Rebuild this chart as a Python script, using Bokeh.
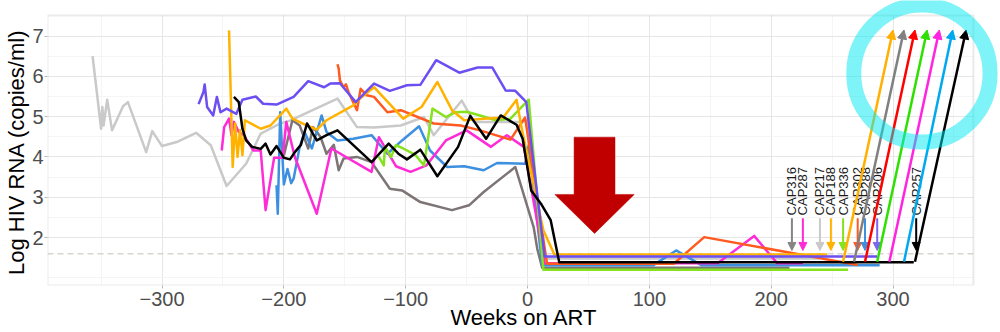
import numpy as np
from bokeh.plotting import figure
from bokeh.models import Arrow, NormalHead, Span, FixedTicker, Label, BoxAnnotation
from bokeh.core.properties import value
from bokeh.embed import file_html
from bokeh.resources import INLINE

FONT = "Liberation Sans"

# ---- viral load per participant: weeks relative to ART start, log10 HIV RNA ----
cap217_weeks = [-357, -350, -349, -348, -345, -341, -332, -328, -313, -308, -300, -288, -272, -260, -247,
                -231, -219, -203, -195, -156, -140, -126, -104, -85, -77, -54, -44, -6, 0, 13, 240]
cap217_vl = [6.50, 4.70, 5.24, 4.78, 5.42, 4.66, 5.26, 5.36, 4.12, 4.64, 4.27, 4.37, 4.60, 4.29, 3.28,
             3.83, 4.58, 4.83, 4.90, 5.45, 4.74, 4.73, 4.78, 4.99, 4.54, 5.40, 4.87, 4.87, 4.90, 1.48, 1.48]

cap316_weeks = [-200, -193, -187, -180, -176, -170, -165, -159, -155, -151, -140, -128, -113, -103, -88,
                -62, -48, -36, -10, 5, 8, 12, 215]
cap316_vl = [4.04, 4.91, 4.78, 4.21, 4.74, 4.50, 4.08, 4.30, 3.67, 3.96, 4.00, 3.87, 3.21, 3.17, 2.88,
             2.68, 2.80, 3.13, 3.75, 2.26, 1.72, 1.25, 1.25]

cap288_weeks = [-206, -205, -203, -200, -197, -194, -192, -187, -183, -177, -169, -165, -156, -143, -128,
                -115, -103, -89, -80, -66, -52, -36, -25, -2, 1, 12, 103, 122, 143, 289]
cap288_vl = [3.30, 2.59, 5.11, 3.32, 3.70, 3.35, 3.46, 4.25, 4.62, 4.21, 5.03, 4.62, 4.41, 4.45, 4.54,
             4.08, 4.41, 4.76, 4.16, 3.75, 3.77, 3.67, 3.85, 3.83, 4.29, 1.31, 1.31, 1.68, 1.31, 1.31]

cap287_weeks = [-251, -249, -245, -243, -241, -237, -233, -225, -219, -215, -208, -201, -198, -191, -173,
                -161, -128, -122, -108, -96, -83, -67, -50, -30, -17, -3, 14, 156, 186, 205, 226]
cap287_vl = [4.16, 4.74, 4.95, 4.54, 4.87, 4.62, 4.54, 4.16, 4.16, 2.68, 3.98, 3.98, 4.87, 4.00, 2.59,
             4.21, 3.63, 4.49, 3.77, 3.63, 3.79, 4.41, 4.66, 4.25, 4.54, 4.25, 1.36, 1.36, 2.04, 1.36, 1.36]

cap302_weeks = [-156, -155, -154, -151, -149, -147, -140, -137, -132, -126, -115, -104, -77, -55, -39,
                -14, -2, 16, 120, 145, 271]
cap302_vl = [6.30, 6.19, 5.90, 5.73, 5.80, 5.61, 5.16, 5.69, 5.53, 5.49, 5.11, 5.16, 4.83, 4.78, 4.66,
             4.43, 4.98, 1.35, 1.35, 2.01, 1.32]

cap336_weeks = [-122, -118, -117, -112, -108, -102, -92, -85, -78, -67, -59, -50, -39, -26, -14, 1, 13, 263]
cap336_vl = [4.00, 3.79, 4.25, 4.00, 4.29, 4.21, 4.05, 3.79, 5.20, 4.99, 5.11, 5.12, 5.03, 4.91, 4.95,
             5.42, 1.20, 1.20]

cap188_weeks = [-245, -242, -240, -238, -236, -234, -232, -219, -211, -198, -193, -181, -173, -165, -143,
                -136, -126, -102, -87, -74, -62, -52, -36, -20, -9, -5, 13, 22, 246]
cap188_vl = [7.14, 3.75, 4.83, 4.00, 4.66, 4.04, 4.91, 4.70, 4.78, 5.20, 4.95, 4.78, 4.68, 4.91, 5.28,
             5.49, 5.73, 4.95, 5.24, 5.86, 5.16, 4.91, 4.95, 4.98, 5.42, 4.74, 2.18, 1.58, 1.58]

cap206_weeks = [-270, -266, -265, -263, -258, -255, -252, -247, -239, -234, -223, -217, -206, -192, -180,
                -167, -162, -154, -141, -126, -113, -99, -88, -75, -56, -41, -29, -18, -10, -1, 14, 287]
cap206_vl = [5.31, 5.61, 5.80, 5.24, 5.03, 5.49, 5.11, 5.20, 5.07, 5.42, 5.50, 5.32, 5.30, 5.49, 5.88,
             5.73, 5.82, 5.83, 5.36, 5.82, 5.64, 5.78, 5.79, 6.40, 6.09, 6.22, 6.22, 5.65, 5.64, 5.36,
             1.53, 1.53]

cap257_weeks = [-241, -237, -234, -231, -226, -219, -215, -211, -206, -200, -195, -191, -186, -181, -173,
                -165, -156, -128, -114, -106, -99, -88, -74, -57, -47, -34, -22, -9, -4, 3, 11, 19, 26, 317]
cap257_vl = [5.49, 5.36, 4.70, 4.41, 4.25, 4.20, 4.33, 4.06, 4.27, 3.98, 3.94, 4.12, 4.30, 4.83, 4.41,
             4.54, 4.66, 3.87, 4.33, 4.08, 3.94, 4.18, 3.52, 4.25, 5.02, 4.45, 5.03, 4.80, 4.45, 3.17,
             2.84, 2.43, 1.39, 1.39]

series = [
    (cap217_weeks, cap217_vl, "#c9c9c9"),
    (cap316_weeks, cap316_vl, "#7d7575"),
    (cap288_weeks, cap288_vl, "#3d8fe0"),
    (cap287_weeks, cap287_vl, "#ff2bd6"),
    (cap302_weeks, cap302_vl, "#ff5a1f"),
    (cap336_weeks, cap336_vl, "#86e21e"),
    (cap188_weeks, cap188_vl, "#ffb300"),
    (cap206_weeks, cap206_vl, "#6c4ef2"),
    (cap257_weeks, cap257_vl, "#000000"),
]

# treatment-interruption markers
label_ids = ["CAP316", "CAP287", "CAP217", "CAP188", "CAP336", "CAP302", "CAP288", "CAP206", "CAP257"]
label_weeks = [217, 226, 240, 249, 259, 271, 277, 287, 319]
label_colors = ["#858585", "#ff2bd6", "#c9c9c9", "#ffb300", "#86e21e", "#ff5a1f", "#3d8fe0", "#7a66f0", "#000000"]
marker_top_vl = 2.48
marker_tip_vl = 1.68
label_base_vl = 2.55

# rebound after interruption
rebound_start_weeks = [259, 268, 277, 287, 297, 309, 318]
rebound_peak_weeks = [300, 309, 318, 328, 338, 349, 360]
rebound_colors = ["#ffb000", "#808080", "#ff0000", "#2ee000", "#ff24e0", "#00a8f0", "#000000"]
rebound_start_vl = 1.40
rebound_peak_vl = 7.15

detection_limit = 1.6  # log10(40 copies/ml)

x_ticks = [-300, -200, -100, 0, 100, 200, 300]
x_tick_labels = ["\u2212300", "\u2212200", "\u2212100", "0", "100", "200", "300"]
x_minor = [-350, -250, -150, -50, 50, 150, 250, 350]
y_ticks = [2, 3, 4, 5, 6, 7]
y_tick_labels = ["2", "3", "4", "5", "6", "7"]
y_minor = [1, 2.5, 3.5, 4.5, 5.5, 6.5]

# panel limits; the frame runs a little past them (right and top) so the ring can overhang
X_LO, X_HI, Y_LO, Y_HI = -394, 366, 0.81, 7.51
X_FRAME_HI, Y_FRAME_HI = 388.2, 7.882

p = figure(width=1000, height=332, x_range=(X_LO, X_FRAME_HI), y_range=(Y_LO, Y_FRAME_HI),
           output_backend="svg", toolbar_location=None,
           min_border_left=47, min_border_right=0, min_border_top=0, min_border_bottom=47)
p.background_fill_color = "white"
p.border_fill_color = "white"
p.outline_line_color = None

xt = FixedTicker(ticks=x_ticks, minor_ticks=x_minor)
yt = FixedTicker(ticks=y_ticks, minor_ticks=y_minor)
p.xaxis.ticker = xt
p.yaxis.ticker = yt
p.xgrid.ticker = xt
p.ygrid.ticker = yt
p.xaxis.major_label_overrides = dict(zip(x_ticks, x_tick_labels))
p.yaxis.major_label_overrides = dict(zip(y_ticks, y_tick_labels))

for g in (p.xgrid, p.ygrid):
    g.grid_line_color = "#e6e6e6"
    g.grid_line_width = 1
    g.minor_grid_line_color = "#f3f3f3"
    g.minor_grid_line_width = 0.8

for ax in (p.xaxis, p.yaxis):
    ax.axis_line_color = None
    ax.major_tick_line_color = "#b8b8b8"
    ax.major_tick_out = 3
    ax.major_tick_in = 0
    ax.minor_tick_line_color = None
    ax.major_label_text_font = FONT
    ax.major_label_text_font_size = "20px"
    ax.major_label_text_color = "#4d4d4d"
    ax.major_label_standoff = 0
    ax.axis_label_text_font = FONT
    ax.axis_label_text_font_size = "22px"
    ax.axis_label_text_font_style = "normal"
    ax.axis_label_text_color = "#000000"
    ax.axis_label_standoff = 0
p.xaxis.major_label_standoff = 2
p.xaxis.axis_label_standoff = -4

p.xaxis.axis_label = "Weeks on ART"
p.yaxis.axis_label = "Log HIV RNA (copies/ml)\u00a0\u00a0\u00a0"

p.add_layout(Span(location=detection_limit, dimension="width", line_color="#d8d5cf",
                  line_width=1.5, line_dash="6 4", level="underlay"))

# blank out the strip between the panel and the frame edge
p.add_layout(BoxAnnotation(left=X_HI, fill_color="white", fill_alpha=1, line_color=None, level="underlay"))
p.add_layout(BoxAnnotation(bottom=Y_HI, fill_color="white", fill_alpha=1, line_color=None, level="underlay"))

for wk, vl, col in series:
    p.line(wk, vl, line_color=col, line_width=2.5, line_join="round")

# panel border
p.add_layout(BoxAnnotation(left=X_LO, right=X_HI, bottom=Y_LO, top=Y_HI, fill_alpha=0,
                           line_color="#b8b8b8", line_width=2))

# interruption markers with labels
for wk, col in zip(label_weeks, label_colors):
    p.add_layout(Arrow(end=NormalHead(size=8, fill_color=col, line_color=col, line_width=1),
                       x_start=wk, y_start=marker_top_vl, x_end=wk, y_end=marker_tip_vl,
                       line_color=col, line_width=2))
p.text(x=label_weeks, y=[label_base_vl] * len(label_weeks), text=label_ids, angle=np.pi / 2,
       text_align="left", text_baseline="middle", text_font=value(FONT),
       text_font_size="13px", text_color="#1a1a1a")

# rebound arrows
for s, e, col in zip(rebound_start_weeks, rebound_peak_weeks, rebound_colors):
    p.add_layout(Arrow(end=NormalHead(size=9, fill_color=col, line_color=col, line_width=1),
                       x_start=s, y_start=rebound_start_vl, x_end=e, y_end=rebound_peak_vl,
                       line_color=col, line_width=2.5))

# suppression arrow
arrow_cx, arrow_top, arrow_neck, arrow_tip = 55, 4.49, 3.07, 2.10
shaft_half, head_half = 16.8, 32.6
p.patch([arrow_cx - shaft_half, arrow_cx + shaft_half, arrow_cx + shaft_half, arrow_cx + head_half,
         arrow_cx, arrow_cx - head_half, arrow_cx - shaft_half],
        [arrow_top, arrow_top, arrow_neck, arrow_neck, arrow_tip, arrow_neck, arrow_neck],
        fill_color="#c00000", line_color="#c00000", line_width=0.5)

# highlight ring around the rebound
ring_cx, ring_cy, ring_r = 323.7, 6.07, 68
p.add_layout(Label(x=ring_cx, y=ring_cy, x_units="data", y_units="data", text=" ",
                   text_font_size="1px", anchor="center", padding=ring_r, border_radius=ring_r,
                   border_line_color="#00eaf2", border_line_alpha=0.5, border_line_width=15,
                   background_fill_color=None))

open("out.html", "w").write(file_html(p, INLINE))
